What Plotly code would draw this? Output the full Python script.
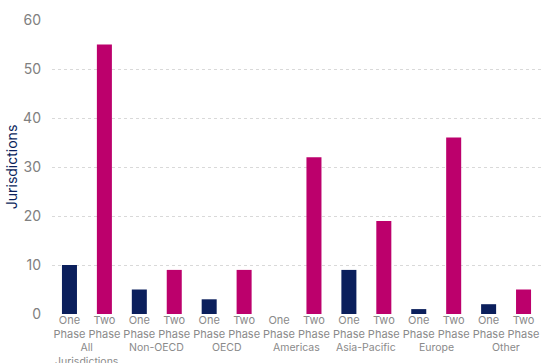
import plotly.graph_objects as go

groups = ["All<br>Jurisdictions", "Non-OECD", "OECD", "Americas", "Asia-Pacific", "Europe", "Other"]
phases = ["One<br>Phase", "Two<br>Phase"]
one_phase = [10, 5, 3, 0, 9, 1, 2]
two_phase = [55, 9, 9, 32, 19, 36, 5]
colors = {"One<br>Phase": "#0b1f5c", "Two<br>Phase": "#bc006c"}

xs, ys, cs, tt = [], [], [], []
for g, a, b in zip(groups, one_phase, two_phase):
    for p, v in zip(phases, [a, b]):
        xs.append(g + "|" + p)
        tt.append(p)
        ys.append(v)
        cs.append(colors[p])

fig = go.Figure(go.Bar(x=xs, y=ys, marker=dict(color=cs, line=dict(width=0)), width=0.43))

for i, g in enumerate(groups):
    fig.add_annotation(x=2 * i + 0.5, xref="x", y=0, yref="paper", yanchor="top", yshift=-25,
                       text=g, showarrow=False, align="center",
                       font=dict(size=10.5, color="#8a8a8a"))

fig.update_layout(
    width=543, height=363,
    margin=dict(l=52, r=2, t=20, b=49),
    plot_bgcolor="white", paper_bgcolor="white",
    font=dict(family="Inter, Lato, sans-serif", color="#808080", size=12),
    showlegend=False,
)
fig.update_xaxes(type="category", tickvals=xs, ticktext=tt, showgrid=False, showline=False,
                 ticks="", tickangle=0, range=[-0.5, 13.5], ticklabelstandoff=-2,
                 tickfont=dict(size=11, color="#8a8a8a"), automargin=False)
fig.update_yaxes(range=[0, 60], dtick=10, showgrid=True, gridcolor="#d9d9d9", griddash="dot",
                 zeroline=False, showline=False, ticks="", tickfont=dict(size=14, color="#808080"),
                 ticklabelstandoff=10,
                 title=dict(text="Jurisdictions", font=dict(size=14, color="#0b1f5c"), standoff=2),
                 automargin=False)

fig.write_html("out.html", config={"displayModeBar": False},
               post_script="document.body.style.margin='0';document.body.style.overflow='hidden';")
